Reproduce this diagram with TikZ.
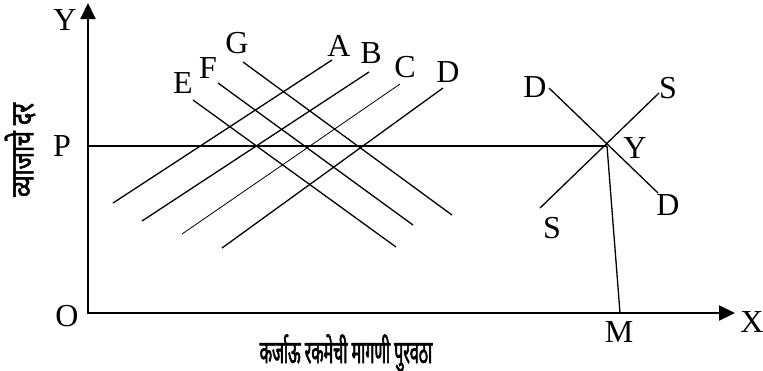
\documentclass[tikz,border=0pt]{standalone}
\usepackage{fontspec}
\setmainfont{Liberation Serif}
\newfontfamily\devfont[Script=Devanagari,FakeStretch=0.5,FakeBold=1.8]{Noto Sans}
\newfontfamily\devfontv[Script=Devanagari,FakeStretch=0.73,FakeBold=1.8]{Noto Sans}
\usetikzlibrary{arrows.meta}

\begin{document}
\begin{tikzpicture}[x=0.5pt, y=-0.5pt, font=\fontsize{16}{18}\selectfont,
    axis/.style={line width=1pt, {Triangle[width=7.5pt,length=8pt]}-{Triangle[width=7.5pt,length=8pt]}},
    curve/.style={line width=0.65pt},
    lbl/.style={inner sep=0pt}]
    \useasboundingbox (0,0) rectangle (763,370);

    % axes
    \coordinate (O) at (88,313);
    \coordinate (Ytip) at (88,3);
    \coordinate (Xtip) at (735,313);
    \draw[axis] (Ytip) -- (O) -- (Xtip);
    \node[lbl] (ylbl) at (65,20) {Y};
    \node[lbl] (xlbl) at (752,322) {X};
    \node[lbl] (olbl) at (67,316) {O};

    % rate line P
    \node[lbl] (plbl) at (62,146) {P};
    \coordinate (P) at (88,146);
    \coordinate (E0) at (607,146);
    \draw[line width=1pt] (P) -- (E0);

    % demand curves A B C D
    \coordinate (a1) at (113,203); \coordinate (a2) at (332,60);
    \coordinate (b1) at (142,221); \coordinate (b2) at (369,72);
    \coordinate (c1) at (182,234); \coordinate (c2) at (400,84);
    \coordinate (d1) at (222,248); \coordinate (d2) at (443,88);
    \draw[curve] (a1) -- (a2);
    \draw[curve] (b1) -- (b2);
    \draw[line width=0.4pt] (c1) -- (c2);
    \draw[curve] (d1) -- (d2);
    \node[lbl] (albl) at (339,46) {A};
    \node[lbl] (blbl) at (371,53) {B};
    \node[lbl] (clbl) at (405,67) {C};
    \node[lbl] (dlbl) at (448,72) {D};

    % supply curves E F G
    \coordinate (e1) at (193,100); \coordinate (e2) at (396,247);
    \coordinate (f1) at (218,83);  \coordinate (f2) at (413,225);
    \coordinate (g1) at (243,62);  \coordinate (g2) at (452,215);
    \draw[curve] (e1) -- (e2);
    \draw[curve] (f1) -- (f2);
    \draw[curve] (g1) -- (g2);
    \node[lbl] (elbl) at (183,83) {E};
    \node[lbl] (flbl) at (208,68) {F};
    \node[lbl] (glbl) at (237,43) {G};

    % equilibrium at Y
    \coordinate (dd1) at (549,88);  \coordinate (dd2) at (658,193);
    \coordinate (ss1) at (540,208); \coordinate (ss2) at (659,93);
    \draw[curve] (dd1) -- (dd2);
    \draw[curve] (ss1) -- (ss2);
    \node[lbl] (ddlbl1) at (535,87) {D};
    \node[lbl] (ddlbl2) at (668,205) {D};
    \node[lbl] (sslbl1) at (552,228) {S};
    \node[lbl] (sslbl2) at (668,88) {S};
    \node[lbl] (eqlbl) at (635,148) {Y};
    \coordinate (M) at (620,313);
    \draw[curve] (E0) -- (M);
    \node[lbl] (mlbl) at (619,332) {M};

    % axis titles
    \node[lbl, rotate=90] (ytitle) at (20,150) {\fontsize{16}{18}\devfontv व्याजाचे दर};
    \node[lbl] (xtitle) at (346,353) {\fontsize{16}{18}\devfont कर्जाऊ रकमेची मागणी पुरवठा};
\end{tikzpicture}
\end{document}
